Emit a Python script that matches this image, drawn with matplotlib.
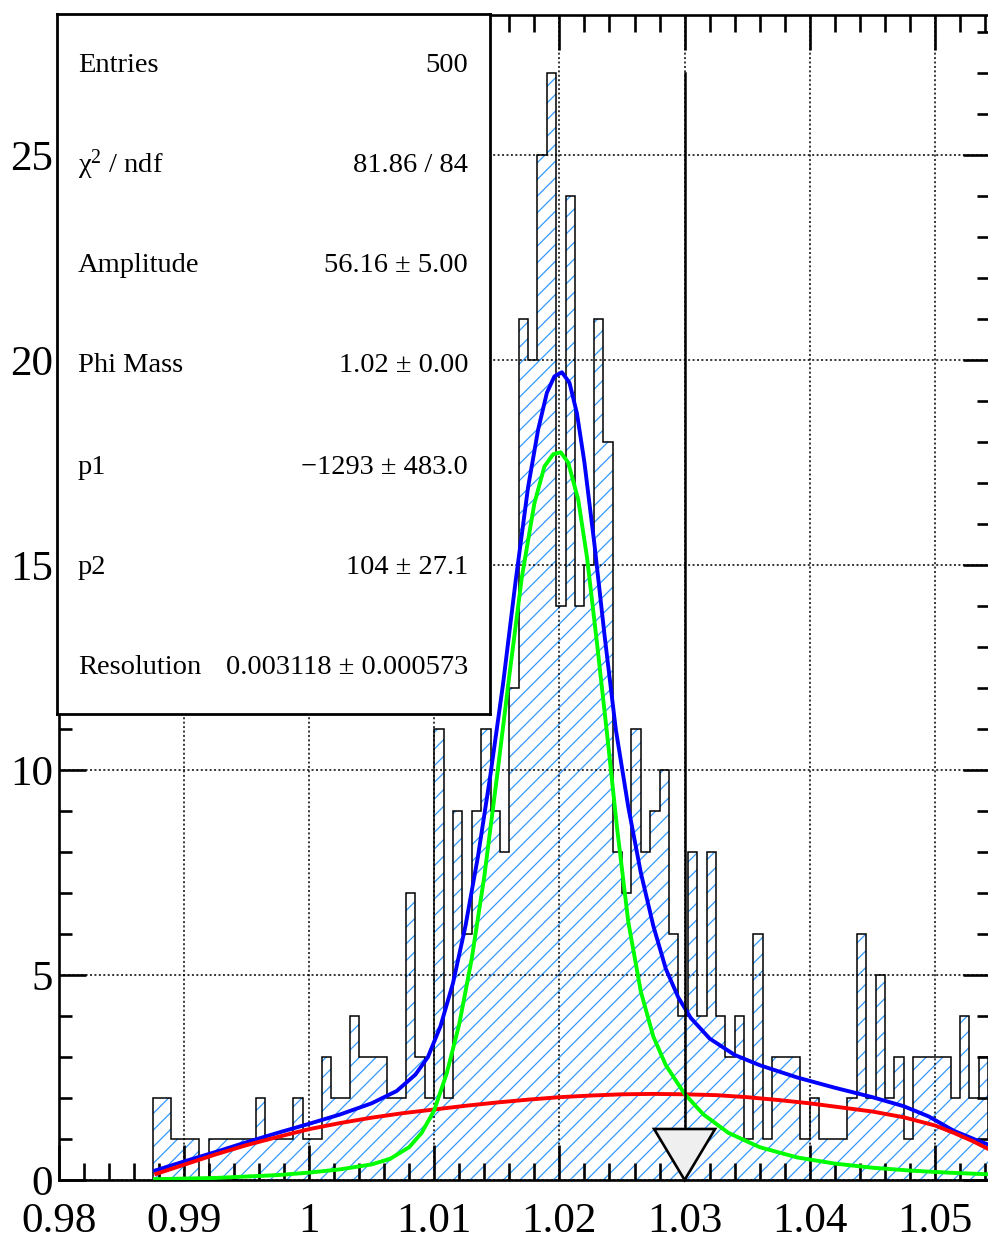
import numpy as np
import matplotlib
matplotlib.use("Agg")
import matplotlib.pyplot as plt
from matplotlib.patches import Polygon
from matplotlib.ticker import MultipleLocator, FuncFormatter

plt.rcParams['font.family'] = ['Liberation Serif', 'DejaVu Serif']
plt.rcParams['mathtext.fontset'] = 'custom'
plt.rcParams['mathtext.rm'] = 'Liberation Serif'
plt.rcParams['hatch.linewidth'] = 0.9

# histogram: 0.00075 wide bins starting at 0.9875
bin_lo = 0.9875
bin_w = 0.00075
counts = [2, 2, 1, 1, 1, 0, 1, 1, 1, 1, 1, 2, 1, 1, 1, 2, 1, 1, 3, 2,
          2, 4, 3, 3, 3, 2, 2, 7, 3, 2, 11, 2, 9, 6, 9, 11, 9, 8, 12, 21,
          20, 25, 27, 14, 24, 14, 15, 21, 18, 8, 7, 11, 8, 9, 10, 6, 4, 8, 4, 8,
          4, 3, 4, 1, 6, 1, 3, 3, 3, 1, 2, 1, 1, 1, 2, 6, 2, 5, 2, 3,
          1, 3, 3, 3, 3, 2, 4, 2, 3, 1]

# fit curves
tot_x = [0.9877, 0.9900, 0.9925, 0.9950, 0.9975, 1.0000, 1.0025, 1.0050, 1.0070, 1.0085,
         1.0095, 1.0105, 1.0115, 1.0125, 1.0135, 1.0145, 1.0155, 1.0165, 1.0175, 1.0183,
         1.0190, 1.0196, 1.0202, 1.0208, 1.0214, 1.0220, 1.0228, 1.0236, 1.0245, 1.0255,
         1.0265, 1.0275, 1.0285, 1.0295, 1.0305, 1.0320, 1.0340, 1.0360, 1.0390, 1.0420,
         1.0450, 1.0475, 1.0495, 1.0515, 1.0535, 1.0550]
tot_y = [0.23, 0.45, 0.68, 0.92, 1.15, 1.37, 1.6, 1.87, 2.17, 2.57,
         3.0, 3.75, 4.8, 6.2, 7.9, 9.9, 12.1, 14.6, 16.9, 18.3,
         19.2, 19.6, 19.7, 19.45, 18.7, 17.5, 15.5, 13.3, 11.0, 9.1,
         7.5, 6.2, 5.15, 4.45, 3.95, 3.45, 3.05, 2.8, 2.5, 2.25,
         2.02, 1.8, 1.55, 1.2, 0.95, 0.78]

sig_x = [0.9877, 0.9925, 0.9975, 1.0000, 1.0025, 1.0050, 1.0065, 1.0080, 1.0090, 1.0100,
         1.0110, 1.0120, 1.0130, 1.0140, 1.0150, 1.0160, 1.0170, 1.0180, 1.0188, 1.0195,
         1.0201, 1.0207, 1.0215, 1.0222, 1.0230, 1.0238, 1.0246, 1.0255, 1.0265, 1.0275,
         1.0285, 1.0300, 1.0315, 1.0335, 1.0360, 1.0390, 1.0420, 1.0450, 1.0480, 1.0510,
         1.0550]
sig_y = [0.02, 0.05, 0.12, 0.18, 0.26, 0.38, 0.52, 0.8, 1.15, 1.7,
         2.6, 3.8, 5.4, 7.4, 9.8, 12.3, 14.7, 16.5, 17.4, 17.7,
         17.75, 17.5, 16.6, 15.2, 13.1, 10.9, 8.6, 6.3, 4.6, 3.5,
         2.8, 2.1, 1.6, 1.15, 0.8, 0.55, 0.4, 0.3, 0.23, 0.18,
         0.13]

bkg_x = [0.9878, 0.9900, 0.9925, 0.9950, 0.9975, 1.0000, 1.0025, 1.0050, 1.0075, 1.0100,
         1.0125, 1.0150, 1.0175, 1.0200, 1.0225, 1.0250, 1.0275, 1.0300, 1.0325, 1.0350,
         1.0375, 1.0400, 1.0425, 1.0450, 1.0475, 1.0500, 1.0515, 1.0530, 1.0545]
bkg_y = [0.15, 0.37, 0.62, 0.85, 1.05, 1.24, 1.39, 1.52, 1.63, 1.72,
         1.81, 1.89, 1.96, 2.02, 2.06, 2.09, 2.1, 2.09, 2.07, 2.02,
         1.95, 1.87, 1.77, 1.67, 1.53, 1.33, 1.15, 0.95, 0.72]

stat_names = ["Entries", r"$\mathregular{χ^{2}}$ / ndf", "Amplitude", "Phi Mass", "p1", "p2", "Resolution"]
stat_vals = ["500", "81.86 / 84", "56.16 ± 5.00", "1.02 ± 0.00", "−1293 ± 483.0", "104 ± 27.1",
             "0.003118 ± 0.000573"]

arrow_x = 1.03
arrow_top = 27.0

W, H = 988, 1239
fig = plt.figure(figsize=(W / 100, H / 100), dpi=100)
# axes frame in pixels: left 58.6, right 990, top 15, bottom 1180
ax = fig.add_axes([58.6 / W, (H - 1180) / H, (990 - 58.6) / W, (1180 - 15) / H])
ax.set_xlim(0.98, 0.98 + (990 - 58.6) / 12520)
ax.set_ylim(0, (1180 - 15) / 41)

edges = bin_lo + bin_w * np.arange(len(counts) + 1)
ax.stairs(counts, edges, fill=True, facecolor='none', edgecolor='#3399ff', linewidth=0,
          hatch='//', zorder=1)
ax.stairs(counts, edges, baseline=0, color='black', linewidth=1.1, zorder=2)

ax.grid(True, which='major', color='black', linestyle=(0, (1.3, 1.6)), linewidth=1.1, zorder=3)
ax.set_axisbelow(False)

ax.plot(tot_x, tot_y, color='#0000ff', lw=2.8, zorder=4, solid_joinstyle='round')
ax.plot(bkg_x, bkg_y, color='#ff0000', lw=2.8, zorder=5, solid_joinstyle='round')
ax.plot(sig_x, sig_y, color='#00ff00', lw=2.8, zorder=6, solid_joinstyle='round')

# arrow pointing at 1.03
tri_h = 51 / 41
tri_hw = 30.5 / 12520
ax.plot([arrow_x, arrow_x], [arrow_top, tri_h], color='black', lw=1.8, zorder=7)
ax.add_patch(Polygon([[arrow_x - tri_hw, tri_h], [arrow_x + tri_hw, tri_h], [arrow_x, 0]],
                     closed=True, facecolor='#efefef', edgecolor='black', lw=1.9, zorder=8,
                     clip_on=False))

ax.xaxis.set_major_locator(MultipleLocator(0.01))
ax.xaxis.set_minor_locator(MultipleLocator(0.002))
ax.yaxis.set_major_locator(MultipleLocator(5))
ax.yaxis.set_minor_locator(MultipleLocator(1))
ax.xaxis.set_major_formatter(FuncFormatter(lambda v, p: f"{v:.2f}".rstrip('0').rstrip('.')))
ax.tick_params(axis='x', which='major', direction='in', length=25, width=1.9, top=True,
               labelsize=31, pad=16)
ax.tick_params(axis='x', which='minor', direction='in', length=12, width=1.9, top=True)
ax.tick_params(axis='y', which='major', direction='in', length=19.5, width=1.9, right=True,
               labelsize=31, pad=4)
ax.tick_params(axis='y', which='minor', direction='in', length=9.5, width=1.9, right=True)
for s in ax.spines.values():
    s.set_linewidth(1.9)

# stats box
bx = fig.add_axes([57 / W, (H - 714) / H, (490 - 57) / W, (714 - 14) / H])
bx.set_xlim(57, 490)
bx.set_ylim(714, 14)
bx.set_xticks([])
bx.set_yticks([])
for s in bx.spines.values():
    s.set_linewidth(2.0)
rows_y = [66, 165, 265, 366, 468, 568, 667]
for name, val, yy in zip(stat_names, stat_vals, rows_y):
    bx.text(78, yy, name, fontsize=20.5, ha='left', va='center')
    bx.text(468, yy, val, fontsize=20.5, ha='right', va='center')

fig.savefig("out.png", dpi=100)
